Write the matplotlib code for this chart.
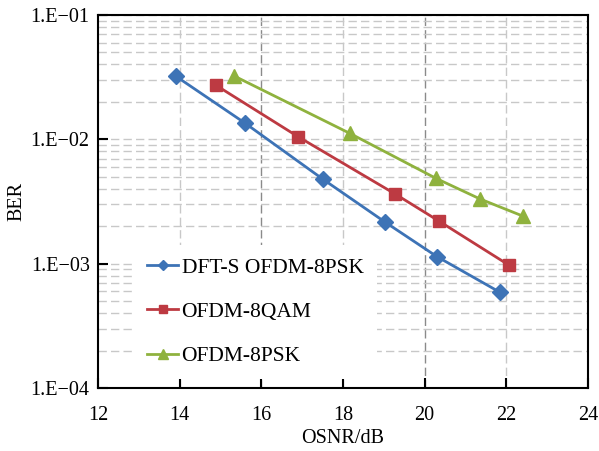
import matplotlib
matplotlib.use("Agg")
import matplotlib.pyplot as plt
from matplotlib.ticker import LogLocator, FixedLocator, FuncFormatter
import numpy as np

plt.rcParams['font.family'] = ['Liberation Serif', 'DejaVu Serif']
plt.rcParams['mathtext.fontset'] = 'stix'

labels = ["DFT-S OFDM-8PSK", "OFDM-8QAM", "OFDM-8PSK"]
x_dft = [13.9, 15.6, 17.5, 19.03, 20.3, 21.85]
y_dft = [3.23e-2, 1.35e-2, 4.8e-3, 2.16e-3, 1.14e-3, 5.87e-4]
x_qam = [14.89, 16.9, 19.28, 20.34, 22.06]
y_qam = [2.72e-2, 1.05e-2, 3.63e-3, 2.21e-3, 9.75e-4]
x_psk = [15.32, 18.16, 20.28, 21.36, 22.41]
y_psk = [3.25e-2, 1.12e-2, 4.85e-3, 3.31e-3, 2.41e-3]
xticks = [12, 14, 16, 18, 20, 22, 24]
yticks = [1e-4, 1e-3, 1e-2, 1e-1]
ytick_labels = ["1.E\u221204", "1.E\u221203", "1.E\u221202", "1.E\u221201"]

colors = ["#3d73b6", "#bd3a42", "#8fb23e"]
markers = ["D", "s", "^"]
msizes = [8, 9, 10]

fig = plt.figure(figsize=(5.99, 4.51), dpi=100)
ax = fig.add_axes([98/599, 1-388/451, (588-98)/599, (388-15)/451])
ax.set_yscale('log')
ax.set_xlim(12, 24)
ax.set_ylim(1e-4, 1e-1)

# grid
for xv in [14, 16, 18, 20, 22]:
    dark = xv in (16, 20)
    ax.axvline(xv, color='#8a8a8a' if dark else '#c8c8c8', lw=1.0, ls=(0, (6, 3)), zorder=0)
ax.yaxis.set_minor_locator(LogLocator(base=10, subs=np.arange(2, 10)))
ax.yaxis.set_minor_formatter(FuncFormatter(lambda v, p: ""))
ax.grid(True, axis='y', which='both', color='#c8c8c8', lw=1.0, ls=(0, (6, 3)), zorder=0)

series = [(x_dft, y_dft), (x_qam, y_qam), (x_psk, y_psk)]
handles = []
for (xs, ys), c, m, ms, lab in zip(series, colors, markers, msizes, labels):
    h, = ax.plot(xs, ys, color=c, marker=m, ms=ms, lw=2.0, label=lab, zorder=3)
    handles.append(h)

ax.set_xticks(xticks)
ax.yaxis.set_major_locator(FixedLocator(yticks))
ax.set_yticklabels(ytick_labels)
ax.tick_params(axis='both', which='major', direction='in', length=7, width=1.5, labelsize=14.5)
ax.tick_params(axis='x', which='major', pad=13)
ax.tick_params(axis='y', which='major', pad=6)
ax.tick_params(axis='y', which='minor', length=0)
for s in ax.spines.values():
    s.set_linewidth(1.5)

ax.set_xlabel("OSNR/dB", fontsize=14.5, labelpad=3)
ax.set_ylabel("BER", fontsize=14.5, labelpad=3)

leg = ax.legend(handles=handles, loc='lower left', bbox_to_anchor=(0.052, -0.005),
                frameon=True, fontsize=15.5, handlelength=1.45, handletextpad=0.15,
                labelspacing=1.12, borderpad=0.6, markerscale=0.7)
leg.get_frame().set_edgecolor('none')
leg.get_frame().set_facecolor('white')
leg.get_frame().set_alpha(1.0)
leg.set_zorder(5)

fig.savefig("out.png", dpi=100)
